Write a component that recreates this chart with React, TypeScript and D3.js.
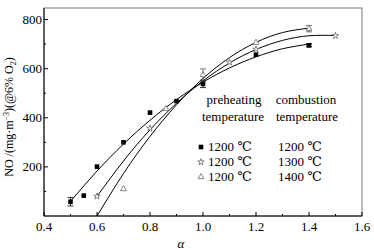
import React from "react";
import * as d3 from "d3";

// Measured data points
const sqX = [0.5, 0.55, 0.6, 0.7, 0.8, 0.9, 1.0, 1.2, 1.4];
const sqY = [58, 83, 201, 300, 421, 468, 538, 657, 695];
const sqErr = [17, 0, 0, 0, 0, 0, 15, 0, 6];

const stX = [0.6, 0.8, 1.1, 1.2, 1.5];
const stY = [80, 357, 626, 679, 734];

const trX = [0.7, 0.86, 1.0, 1.2, 1.4];
const trY = [110, 436, 574, 706, 763];
const trErr = [0, 0, 25, 0, 13];

// Fitted curves
const fit1X = [0.5, 0.6, 0.7, 0.8, 0.9, 1.0, 1.1, 1.2, 1.3, 1.4];
const fit1Y = [60, 183, 293, 390, 474, 545, 603, 648, 681, 700];
const fit2X = [0.6, 0.7, 0.8, 0.9, 1.0, 1.1, 1.2, 1.3, 1.4, 1.5];
const fit2Y = [80, 224, 351, 459, 550, 623, 678, 715, 734, 735];
const fit3X = [0.6, 0.7, 0.8, 0.9, 1.0, 1.1, 1.2, 1.3, 1.4];
const fit3Y = [0, 173, 324, 453, 560, 645, 707, 747, 765];

const xTicks = [0.4, 0.6, 0.8, 1.0, 1.2, 1.4, 1.6];
const xMinor = [0.5, 0.7, 0.9, 1.1, 1.3, 1.5];
const yTicks = [200, 400, 600, 800];
const yMinor = [100, 300, 500, 700];

const legendRows = [
  { sym: "square", pre: "1200 ℃", comb: "1200 ℃" },
  { sym: "star", pre: "1200 ℃", comb: "1300 ℃" },
  { sym: "triangle", pre: "1200 ℃", comb: "1400 ℃" },
];

const W = 374, H = 250;
const L = 44, R = 362, T = 8, B = 216;
const FONT = '"Liberation Serif", "DejaVu Serif", serif';

export default function App() {
  const x = d3.scaleLinear().domain([0.4, 1.6]).range([L, R]);
  const y = d3.scaleLinear().domain([0, 847]).range([B, T]);
  const line = d3
    .line<[number, number]>()
    .x((d) => x(d[0]))
    .y((d) => y(d[1]))
    .curve(d3.curveNatural);
  const star = d3.symbol().type(d3.symbolStar).size(13)() as string;
  const tri = d3.symbol().type(d3.symbolTriangle).size(15)() as string;

  const marker = (kind: string, cx: number, cy: number, key: string) => {
    if (kind === "square")
      return <rect key={key} x={cx - 2.3} y={cy - 2.3} width={4.6} height={4.6} fill="#000" />;
    if (kind === "star")
      return (
        <path key={key} d={star} transform={`translate(${cx},${cy})`} fill="#fff" stroke="#555" strokeWidth={0.7} />
      );
    return (
      <path key={key} d={tri} transform={`translate(${cx},${cy})`} fill="#fff" stroke="#555" strokeWidth={0.7} />
    );
  };

  const errBar = (xv: number, yv: number, e: number, key: string, color: string) =>
    e > 0 ? (
      <g key={key} stroke={color} strokeWidth={0.8}>
        <line x1={x(xv)} x2={x(xv)} y1={y(yv - e)} y2={y(yv + e)} />
        <line x1={x(xv) - 3} x2={x(xv) + 3} y1={y(yv - e)} y2={y(yv - e)} />
        <line x1={x(xv) - 3} x2={x(xv) + 3} y1={y(yv + e)} y2={y(yv + e)} />
      </g>
    ) : null;

  const legY = [151, 166, 181];
  const ts: React.CSSProperties = { fontFamily: FONT };

  return (
    <svg
      width={W}
      height={H}
      style={{ position: "absolute", left: 0, top: 0, background: "#fff", fontFamily: FONT }}
    >
      <rect x={0} y={0} width={W} height={H} fill="#fff" />
      {/* frame */}
      <rect x={L} y={T} width={R - L} height={B - T} fill="none" stroke="#777" strokeWidth={1} />
      <line x1={L} x2={L} y1={T} y2={B} stroke="#000" />
      <line x1={L} x2={R} y1={B} y2={B} stroke="#000" />

      {/* x ticks */}
      {xTicks.map((t) => (
        <g key={"xt" + t}>
          <line x1={x(t)} x2={x(t)} y1={B} y2={B - 4} stroke="#000" />
          <text x={x(t)} y={231} textAnchor="middle" fontSize={13} style={ts}>
            {t.toFixed(1)}
          </text>
        </g>
      ))}
      {xMinor.map((t) => (
        <line key={"xm" + t} x1={x(t)} x2={x(t)} y1={B} y2={B - 2} stroke="#000" />
      ))}
      {/* y ticks */}
      {yTicks.map((t) => (
        <g key={"yt" + t}>
          <line x1={L} x2={L + 4} y1={y(t)} y2={y(t)} stroke="#000" />
          <text x={42} y={y(t) + 4.5} textAnchor="end" fontSize={13} style={ts}>
            {t}
          </text>
        </g>
      ))}
      {yMinor.map((t) => (
        <line key={"ym" + t} x1={L} x2={L + 2} y1={y(t)} y2={y(t)} stroke="#000" />
      ))}

      {/* axis titles */}
      <text x={181} y={248} textAnchor="middle" fontSize={13} fontStyle="italic" style={ts}>
        α
      </text>
      <text transform="translate(13,117) rotate(-90)" textAnchor="middle" fontSize={12} style={ts}>
        NO /(mg·m
        <tspan dy={-4} fontSize={8}>−3</tspan>
        <tspan dy={4}>)(@6% O</tspan>
        <tspan dy={3} fontSize={8}>2</tspan>
        <tspan dy={-3}>)</tspan>
      </text>

      {/* fitted curves */}
      <path d={line(fit1X.map((v, i) => [v, fit1Y[i]]) as any) as string} fill="none" stroke="#000" strokeWidth={1} />
      <path d={line(fit2X.map((v, i) => [v, fit2Y[i]]) as any) as string} fill="none" stroke="#000" strokeWidth={1} />
      <path d={line(fit3X.map((v, i) => [v, fit3Y[i]]) as any) as string} fill="none" stroke="#000" strokeWidth={1} />

      {/* error bars */}
      {sqX.map((v, i) => errBar(v, sqY[i], sqErr[i], "se" + i, "#000"))}
      {trX.map((v, i) => errBar(v, trY[i], trErr[i], "te" + i, "#555"))}

      {/* markers */}
      {sqX.map((v, i) => marker("square", x(v), y(sqY[i]), "s" + i))}
      {stX.map((v, i) => marker("star", x(v), y(stY[i]), "st" + i))}
      {trX.map((v, i) => marker("triangle", x(v), y(trY[i]), "t" + i))}

      {/* legend */}
      <text x={234} y={104} textAnchor="middle" fontSize={13} style={ts}>preheating</text>
      <text x={233} y={121} textAnchor="middle" fontSize={13} style={ts}>temperature</text>
      <text x={306} y={104} textAnchor="middle" fontSize={13} style={ts}>combustion</text>
      <text x={307} y={121} textAnchor="middle" fontSize={13} style={ts}>temperature</text>
      {legendRows.map((r, i) => (
        <g key={"lg" + i}>
          {marker(r.sym, 201, legY[i] - 4, "lm" + i)}
          <text x={208} y={legY[i]} fontSize={13} style={ts}>{r.pre}</text>
          <text x={278} y={legY[i]} fontSize={13} style={ts}>{r.comb}</text>
        </g>
      ))}
    </svg>
  );
}
